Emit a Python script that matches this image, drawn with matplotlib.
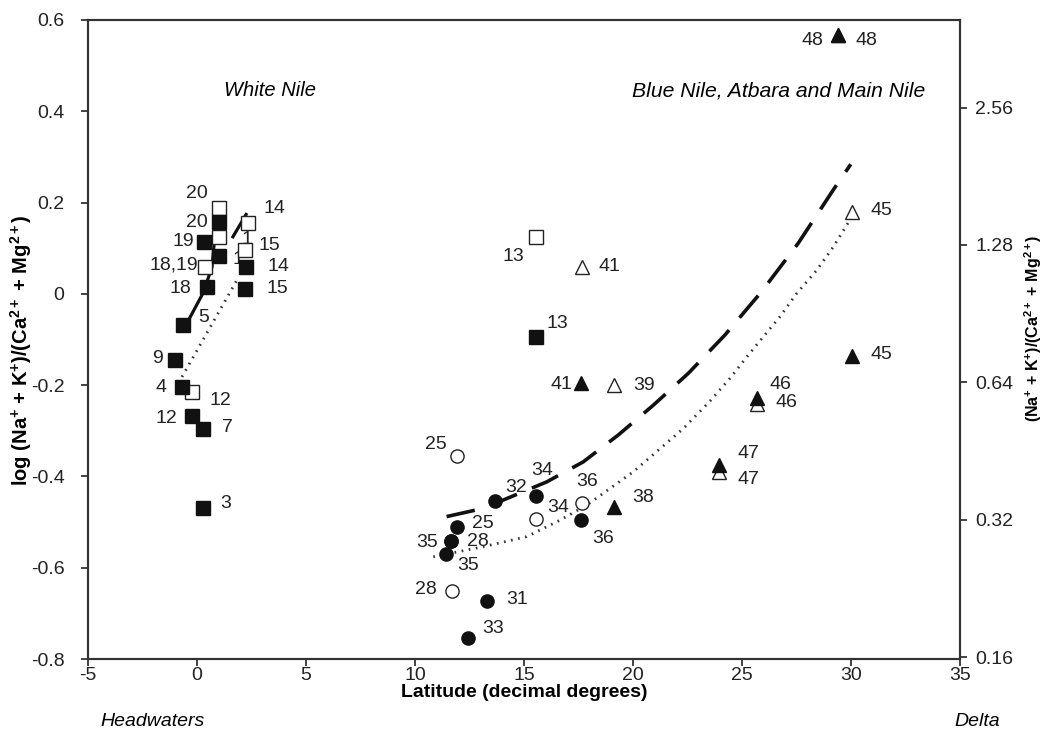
import matplotlib
matplotlib.use("Agg")
import matplotlib.pyplot as plt
import numpy as np

plt.rcParams['font.family'] = ['Liberation Sans', 'DejaVu Sans']
plt.rcParams['mathtext.fontset'] = 'custom'
plt.rcParams['mathtext.rm'] = 'Liberation Sans'
plt.rcParams['mathtext.bf'] = 'Liberation Sans:bold'
plt.rcParams['mathtext.it'] = 'Liberation Sans:italic'

# ---------------- data ----------------
# White Nile / filled squares
sq_f_x = [1.01, 0.32, 1.01, 0.46, 2.25, 2.20, -0.64, -1.01, -0.69, -0.23, 0.28, 0.28, 15.55]
sq_f_y = [0.157, 0.114, 0.083, 0.015, 0.059, 0.011, -0.068, -0.145, -0.204, -0.268, -0.296, -0.469, -0.095]
sq_f_lab = ['20', '19', '1', '18', '14', '15', '5', '9', '4', '12', '7', '3', '13']

# open squares
sq_o_x = [1.01, 1.01, 0.37, 2.34, 2.20, -0.23, 15.55]
sq_o_y = [0.188, 0.125, 0.059, 0.155, 0.096, -0.215, 0.125]
sq_o_lab = ['20', '1', '18,19', '14', '15', '12', '13']

# filled circles
ci_f_x = [11.93, 11.65, 11.65, 11.42, 13.67, 15.55, 17.61, 13.30, 12.43]
ci_f_y = [-0.511, -0.542, -0.542, -0.570, -0.454, -0.443, -0.496, -0.673, -0.754]
ci_f_lab = ['25', '28', '35', '35', '32', '34', '36', '31', '33']

# open circles
ci_o_x = [11.93, 15.55, 17.66, 11.70]
ci_o_y = [-0.355, -0.493, -0.458, -0.651]
ci_o_lab = ['25', '34', '36', '28']

# filled triangles
tr_f_x = [17.61, 19.13, 23.94, 25.69, 30.05, 29.40]
tr_f_y = [-0.195, -0.467, -0.375, -0.228, -0.136, 0.567]
tr_f_lab = ['41', '38', '47', '46', '45', '48']

# open triangles
tr_o_x = [17.66, 19.13, 23.94, 25.69, 30.05, 29.40]
tr_o_y = [0.059, -0.200, -0.390, -0.241, 0.179, 0.567]
tr_o_lab = ['41', '39', '47', '46', '45', '48']

# trend lines
wn_solid_a_x = [-0.46, 0.28, 0.69, 0.83]
wn_solid_a_y = [-0.064, 0.002, 0.059, 0.133]
wn_solid_b_x = [1.61, 2.29]
wn_solid_b_y = [0.122, 0.177]
wn_dot_x = [-0.69, 1.83]
wn_dot_y = [-0.182, 0.030]
bn_dash_x = [11.45, 13.13, 16.04, 17.72, 19.33, 20.93, 22.54, 24.22, 25.90, 27.58, 29.19, 29.99]
bn_dash_y = [-0.488, -0.470, -0.412, -0.368, -0.309, -0.244, -0.174, -0.090, 0.005, 0.111, 0.228, 0.284]
bn_dot_x = [10.84, 13.13, 15.12, 16.65, 17.87, 20.01, 22.31, 23.53, 24.45, 25.22, 25.98, 26.74,
            27.51, 28.43, 29.19, 29.95]
bn_dot_y = [-0.576, -0.554, -0.532, -0.496, -0.463, -0.390, -0.295, -0.235, -0.185, -0.138, -0.094,
            -0.050, 0.001, 0.052, 0.103, 0.162]

x_ticks = [-5, 0, 5, 10, 15, 20, 25, 30, 35]
y_ticks = [-0.8, -0.6, -0.4, -0.2, 0, 0.2, 0.4, 0.6]
y_tick_labels = ['-0.8', '-0.6', '-0.4', '-0.2', '0', '0.2', '0.4', '0.6']
r_ticks = [0.16, 0.32, 0.64, 1.28, 2.56]
r_tick_labels = ['0.16', '0.32', '0.64', '1.28', '2.56']

# label offsets (pixels) and alignment
sq_f_off = [(-11, 0, 'right'), (-10, 0, 'right'), (13, -4, 'left'), (-16, -1, 'right'),
            (21, 0, 'left'), (22, 0, 'left'), (15, 7, 'left'), (-12, 2, 'right'),
            (-15, -1, 'right'), (-15, -2, 'right'), (19, 1, 'left'), (17, 4, 'left'),
            (11, 14, 'left')]
sq_o_off = [(-22, 15, 'center'), (22, -3, 'left'), (-7, 2, 'right'), (15, 15, 'left'),
            (14, 5, 'left'), (18, -9, 'left'), (-23, -20, 'center')]
ci_f_off = [(15, 4, 'left'), (16, 0, 'left'), (-13, -1, 'right'), (22, -11, 'center'),
            (21, 14, 'center'), (6, 26, 'center'), (22, -18, 'center'), (19, 2, 'left'),
            (14, 10, 'left')]
ci_o_off = [(-10, 11, 'right'), (22, 11, 'center'), (5, 21, 'center'), (-15, 1, 'right')]
tr_f_off = [(-9, -2, 'right'), (18, 10, 'left'), (19, 12, 'left'), (12, 13, 'left'),
            (18, 1, 'left'), (-15, -5, 'right')]
tr_o_off = [(17, 0, 'left'), (19, 0, 'left'), (19, -8, 'left'), (18, 1, 'left'),
            (18, 2, 'left'), (18, -5, 'left')]

# ---------------- figure ----------------
fig = plt.figure(figsize=(10.42, 7.34), dpi=100)
ax = fig.add_axes([88 / 1042, 1 - 659 / 734, (960 - 88) / 1042, (659 - 20) / 734])

# trend lines
ax.plot(wn_solid_a_x, wn_solid_a_y, color='#111111', lw=2.3, solid_capstyle='butt', zorder=2)
ax.plot(wn_solid_b_x, wn_solid_b_y, color='#111111', lw=2.3, solid_capstyle='butt', zorder=2)
ax.plot(wn_dot_x, wn_dot_y, color='#333333', lw=2.0, linestyle=(0, (0.6, 2.0)), zorder=2)
ax.plot(bn_dash_x, bn_dash_y, color='#111111', lw=2.6, linestyle=(0, (8, 4.5)),
        dash_capstyle='butt', zorder=2)
ax.plot(bn_dot_x, bn_dot_y, color='#333333', lw=2.0, linestyle=(0, (0.6, 2.0)), zorder=2)

ms_sq = 10
ms_ci = 9.5
ms_tr = 10.5
ax.plot(sq_o_x, sq_o_y, 's', ms=ms_sq, mfc='white', mec='#222222', mew=1.0, ls='none', zorder=3)
ax.plot(sq_f_x, sq_f_y, 's', ms=ms_sq, mfc='#111111', mec='#111111', mew=1.0, ls='none', zorder=4)
ax.plot(ci_o_x, ci_o_y, 'o', ms=ms_ci, mfc='white', mec='#222222', mew=1.0, ls='none', zorder=3)
ax.plot(ci_f_x, ci_f_y, 'o', ms=ms_ci, mfc='#111111', mec='#111111', mew=1.0, ls='none', zorder=4)
ax.plot(tr_o_x, tr_o_y, '^', ms=ms_tr, mfc='white', mec='#222222', mew=1.0, ls='none', zorder=3)
ax.plot(tr_f_x, tr_f_y, '^', ms=ms_tr, mfc='#111111', mec='#111111', mew=1.0, ls='none', zorder=4)

def add_labels(xs, ys, labs, offs):
    for x, y, t, (dx, dy, ha) in zip(xs, ys, labs, offs):
        ax.annotate(t, (x, y), xytext=(dx, dy), textcoords='offset pixels',
                    ha=ha, va='center', fontsize=14, color='#222222', zorder=1)

add_labels(sq_f_x, sq_f_y, sq_f_lab, sq_f_off)
add_labels(sq_o_x, sq_o_y, sq_o_lab, sq_o_off)
add_labels(ci_f_x, ci_f_y, ci_f_lab, ci_f_off)
add_labels(ci_o_x, ci_o_y, ci_o_lab, ci_o_off)
add_labels(tr_f_x, tr_f_y, tr_f_lab, tr_f_off)
add_labels(tr_o_x, tr_o_y, tr_o_lab, tr_o_off)

ax.text(3.35, 0.445, 'White Nile', style='italic', fontsize=14.5, ha='center', va='center')
ax.text(26.7, 0.445, 'Blue Nile, Atbara and Main Nile', style='italic', fontsize=15.2,
        ha='center', va='center')

ax.set_xlim(-5, 35)
ax.set_ylim(-0.8, 0.6)
ax.set_xticks(x_ticks)
ax.set_xticklabels([str(v) for v in x_ticks])
ax.set_yticks(y_ticks)
ax.set_yticklabels(y_tick_labels)
ax.tick_params(axis='both', direction='out', length=5, width=1.2, labelsize=14,
               colors='#222222')
ax.tick_params(axis='y', pad=12)
ax.tick_params(axis='x', pad=1)
for s in ax.spines.values():
    s.set_linewidth(1.5)
    s.set_color('#333333')
ax.set_xlabel('Latitude (decimal degrees)', fontsize=14, fontweight='bold', labelpad=0)

ax2 = ax.twinx()
ax2.set_yscale('log')
ax2.set_ylim(10 ** -0.8, 10 ** 0.6)
ax2.set_yticks(r_ticks)
ax2.set_yticklabels(r_tick_labels)
ax2.yaxis.set_minor_locator(matplotlib.ticker.NullLocator())
ax2.tick_params(axis='y', direction='out', length=5, width=1.2, labelsize=14,
                colors='#222222', pad=6)
for s in ax2.spines.values():
    s.set_linewidth(1.5)
    s.set_color('#333333')

fig.text(21 / 1042, 1 - 350 / 734,
         r'log (Na$^{\mathbf{+}}$ + K$^{\mathbf{+}}$)/(Ca$^{\mathbf{2+}}$ + Mg$^{\mathbf{2+}}$)',
         rotation=90, fontsize=14.5, fontweight='bold', ha='center', va='center')
fig.text(1033 / 1042, 1 - 328 / 734,
         r'(Na$^{\mathbf{+}}$ + K$^{\mathbf{+}}$)/(Ca$^{\mathbf{2+}}$ + Mg$^{\mathbf{2+}}$)',
         rotation=90, fontsize=11.5, fontweight='bold', ha='center', va='center')

fig.text(153 / 1042, 1 - 722 / 734, 'Headwaters', style='italic', fontsize=14, ha='center', va='center')
fig.text(977 / 1042, 1 - 722 / 734, 'Delta', style='italic', fontsize=14, ha='center', va='center')

fig.savefig('out.png', dpi=100, facecolor='white')
